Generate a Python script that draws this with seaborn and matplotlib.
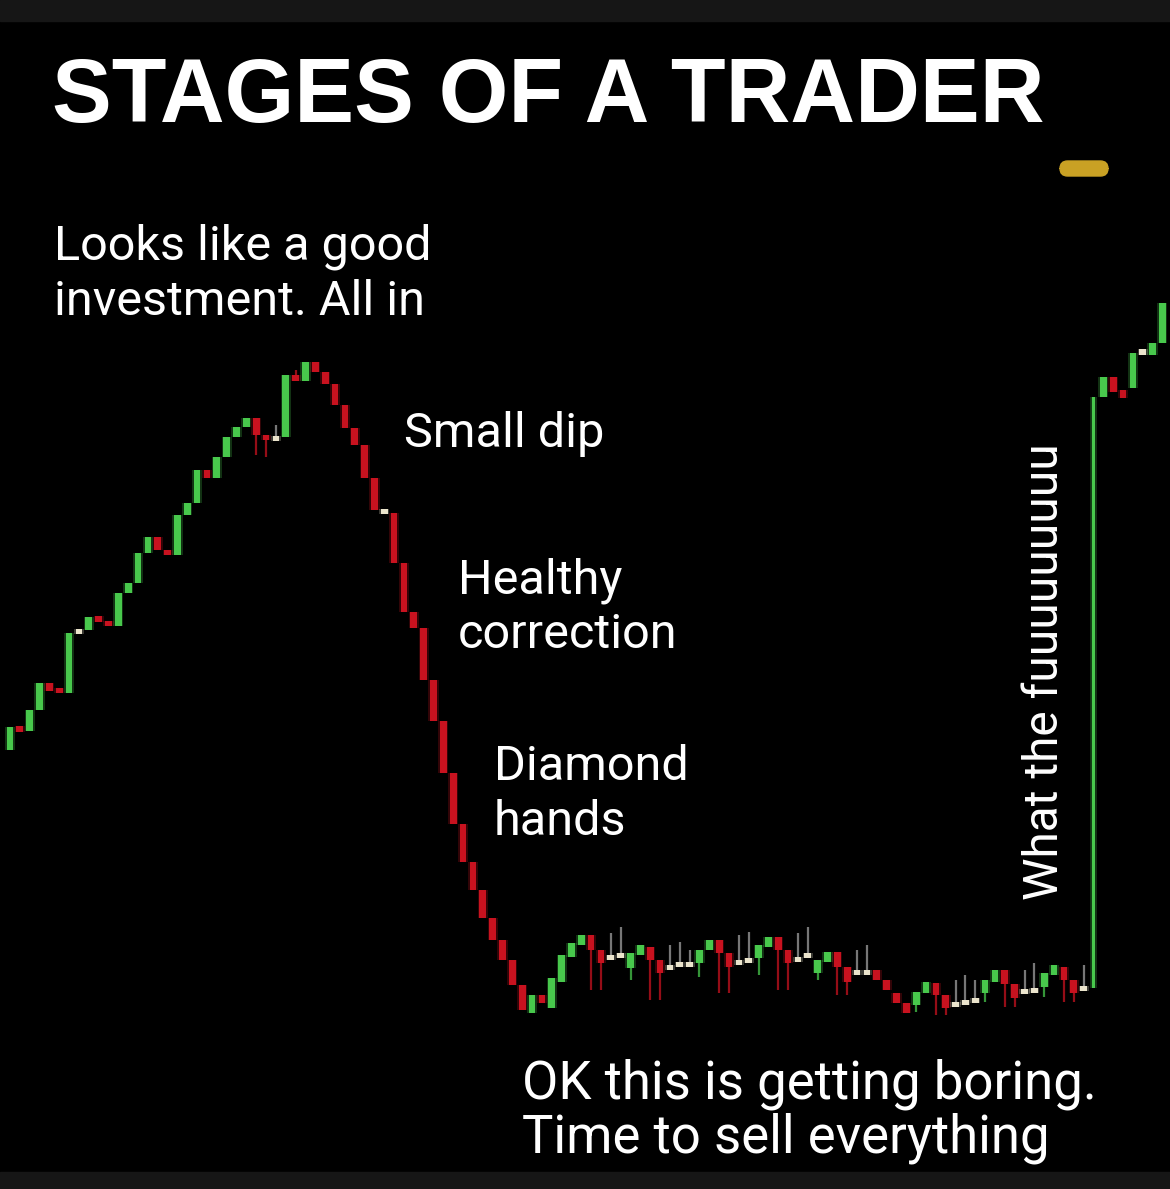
import numpy as np
import pandas as pd
import matplotlib
matplotlib.use("Agg")
import matplotlib.pyplot as plt
import seaborn as sns
from matplotlib.patches import Rectangle, FancyBboxPatch

# ---------------- data (prices) ----------------
opens = [
    # rise
    35.0, 37.3, 36.9, 39.0, 41.7, 41.2, 40.7, 46.7, 47.0, 48.3, 47.9, 47.4, 50.7, 51.7, 54.7, 56.3,
    55.0, 54.5, 58.5, 59.7, 63.0, 62.2, 64.3, 66.3, 67.3, 68.2, 66.5, 66.0, 66.3, 72.5, 71.9,
    # decline
    73.8, 72.8, 71.6, 69.5, 67.2, 65.5, 62.2, 59.0, 58.7, 53.7, 48.8, 47.2, 42.0, 37.9, 32.7, 27.6,
    23.8, 21.0, 18.2, 16.0, 14.0, 11.5,
    # sideways
    8.7, 10.5, 9.2, 11.8, 14.3, 15.5, 16.5, 15.0, 14.2, 14.4, 13.2, 14.5, 15.3, 14.0, 13.3, 13.6,
    13.5, 13.7, 15.0, 16.0, 14.7, 13.8, 13.9, 14.2, 15.3, 16.3, 15.0, 14.1, 14.4, 12.7, 13.8, 14.8,
    13.3, 12.8, 12.7, 13.0, 12.0, 10.7, 9.7, 9.5, 10.7, 11.7, 10.5, 9.6, 9.7, 9.9, 10.7, 11.8,
    13.0, 11.6, 10.9, 10.9, 11.3, 12.5, 13.3, 12.0, 11.1,
    # the jump and after
    11.2, 70.3, 72.3, 71.0, 71.2, 74.7, 74.5, 75.7,
]
closes = [
    37.3, 36.9, 39.0, 41.7, 40.9, 40.7, 46.7, 47.0, 48.3, 47.9, 47.4, 50.7, 51.7, 54.7, 56.3, 55.0,
    54.5, 58.5, 59.7, 63.0, 62.2, 64.3, 66.3, 67.3, 68.2, 66.5, 66.0, 66.3, 72.5, 71.9, 73.8,
    72.8, 71.6, 69.5, 67.2, 65.5, 62.2, 59.0, 58.7, 53.7, 48.8, 47.2, 42.0, 37.9, 32.7, 27.6, 23.8,
    21.0, 18.2, 16.0, 14.0, 11.5, 9.0,
    10.5, 9.7, 12.2, 14.5, 15.7, 16.5, 15.0, 13.7, 14.3, 14.5, 14.7, 15.5, 14.0, 12.7, 13.2, 13.5,
    13.6, 15.0, 16.0, 14.7, 13.3, 13.7, 14.0, 15.5, 16.3, 15.0, 13.7, 14.0, 14.5, 14.0, 14.8, 13.3,
    11.8, 12.7, 12.8, 12.0, 11.0, 9.7, 8.7, 10.8, 11.8, 10.5, 9.2, 9.5, 9.8, 10.0, 12.0, 13.0,
    11.6, 10.2, 10.8, 11.0, 12.7, 13.5, 12.0, 10.7, 11.2,
    70.3, 72.3, 70.8, 70.2, 74.7, 74.9, 75.7, 79.7,
]
wick_high = {61: 16.7, 62: 17.3, 67: 15.5, 68: 15.8, 69: 15.0, 74: 16.5, 75: 16.8,
             80: 16.7, 81: 17.3, 86: 15.0, 87: 15.5, 96: 12.0, 97: 12.5, 98: 12.0,
             103: 13.0, 104: 13.7, 109: 13.5, 29: 73.0, 27: 67.5}
wick_low = {59: 11.0, 60: 11.0, 65: 10.0, 66: 10.0, 72: 10.7, 73: 10.7, 78: 11.0, 79: 11.0,
            84: 10.5, 85: 10.5, 94: 8.5, 95: 8.5, 101: 9.3, 102: 9.3, 107: 9.8, 108: 9.8,
            63: 12.0, 70: 12.3, 76: 12.5, 82: 12.0, 92: 8.8, 99: 9.8, 105: 10.3, 25: 64.5, 26: 64.3}

title = "STAGES OF A TRADER"
label_start = ["Looks like a good", "investment. All in"]
label_dip = ["Small dip"]
label_correction = ["Healthy", "correction"]
label_diamond = ["Diamond", "hands"]
label_boring = ["OK this is getting boring.", "Time to sell everything"]
label_jump = "What the fuuuuuuuuu"

# ---------------- style ----------------
sns.set_theme(style="dark", rc={"axes.facecolor": "black", "figure.facecolor": "black"})
plt.rcParams['font.family'] = ['Roboto', 'DejaVu Sans']

GREEN = "#48c84c"
RED = "#c8121f"
DOJI = "#ebe4cc"

W, H = 1170, 1189
fig = plt.figure(figsize=(W / 100, H / 100), dpi=100)
ax = fig.add_axes([0, 0, 1, 1])
ax.set_facecolor("black")

df = pd.DataFrame({"open": opens, "close": closes})
df["idx"] = np.arange(len(df))
df["high"] = [wick_high.get(i, max(o, c)) for i, (o, c) in enumerate(zip(opens, closes))]
df["low"] = [wick_low.get(i, min(o, c)) for i, (o, c) in enumerate(zip(opens, closes))]
diff = df["close"] - df["open"]
df["kind"] = np.where(diff > 0.35, "up", np.where(diff < -0.35, "down", "doji"))
color_map = {"up": GREEN, "down": RED, "doji": DOJI}
df["color"] = df["kind"].map(color_map)

# wicks
wick_cols = [("#a0a0a0" if k == "doji" else c) for k, c in zip(df["kind"], df["color"])]
ax.vlines(df["idx"], df["low"], df["high"], colors=wick_cols, lw=1.6, alpha=0.75, zorder=2)

# bodies
MIN_H = 0.55
body_bottom = np.minimum(df["open"], df["close"]).to_numpy(dtype=float)
body_h = np.abs(diff).to_numpy(dtype=float)
mid = (df["open"] + df["close"]).to_numpy(dtype=float) / 2
small = body_h < MIN_H
body_bottom[small] = mid[small] - MIN_H / 2
body_h[small] = MIN_H
widths = np.where(body_h > 40, 0.34, 0.68)

# soft glow to mimic the blurry screenshot
ax.bar(df["idx"], body_h, bottom=body_bottom, width=widths + 0.35, color=df["color"],
       alpha=0.25, linewidth=0, zorder=3)
ax.bar(df["idx"], body_h, bottom=body_bottom, width=widths, color=df["color"],
       linewidth=0, zorder=4)

ax.set_xlim(-1.015, 117.77)
ax.set_ylim(-8.9, 110.0)
ax.axis("off")

# ---------------- frame bands ----------------
fig.patches.append(Rectangle((0, 1 - 21 / H), 1, 21 / H, transform=fig.transFigure,
                             color="#161616", zorder=10))
fig.patches.append(Rectangle((0, 0), 1, 17 / H, transform=fig.transFigure,
                             color="#161616", zorder=10))
# small gold pill (decoration in the corner)
fig.patches.append(FancyBboxPatch((1060 / W, 1 - 176 / H), 48 / W, 15 / H,
                                  boxstyle="round,pad=0.0,rounding_size=0.0065",
                                  transform=fig.transFigure, color="#c9a124", zorder=10))


def put(x, y, s, **kw):
    fig.text(x / W, 1 - y / H, s, color="white", va="baseline", ha="left", **kw)


put(52, 122, title, fontsize=64.5, fontweight="bold",
    family=["Liberation Sans", "DejaVu Sans"])

FS = 35
for i, line in enumerate(label_start):
    put(54, 260 + 55 * i, line, fontsize=FS)
for i, line in enumerate(label_dip):
    put(404, 447 + 55 * i, line, fontsize=FS)
for i, line in enumerate(label_correction):
    put(458, 593 + 55 * i, line, fontsize=FS)
for i, line in enumerate(label_diamond):
    put(494, 780 + 55 * i, line, fontsize=FS)
for i, line in enumerate(label_boring):
    put(522, 1098 + 55 * i, line, fontsize=38)

fig.text(1058 / W, 1 - 900 / H, label_jump, color="white", fontsize=FS - 0.5, rotation=90,
         rotation_mode="anchor", ha="left", va="baseline")

fig.savefig("out.png", dpi=100, facecolor="black")
